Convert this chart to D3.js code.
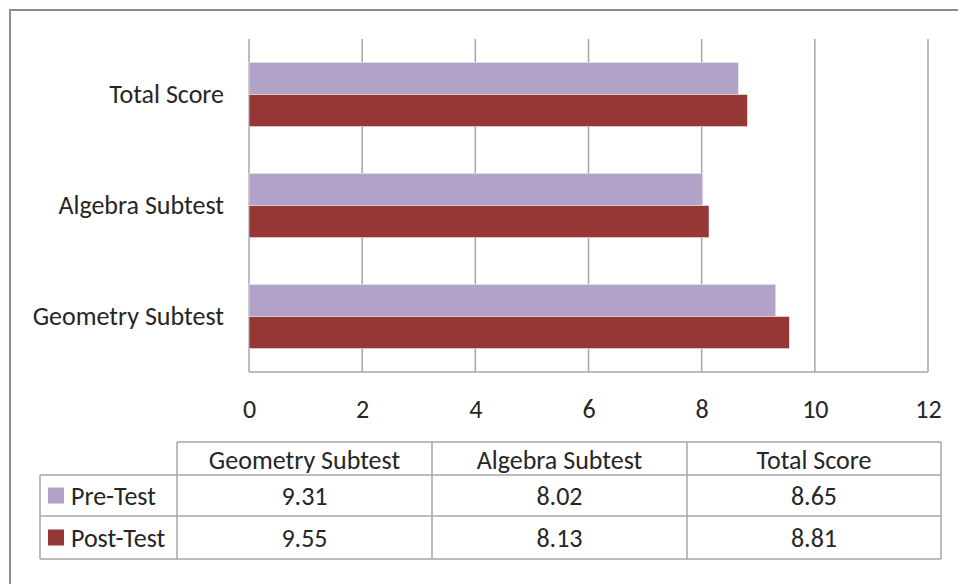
<!DOCTYPE html>
<html>
<head>
<meta charset="utf-8">
<script src="https://cdn.jsdelivr.net/npm/d3@7"></script>
<style>
  html, body { margin: 0; padding: 0; background: #fff; }
  svg text { font-family: Carlito, Calibri, Lato, sans-serif; fill: #262626; }
</style>
</head>
<body>
<div id="chart"></div>
<script>
'use strict';

// chart values
const categories = ['Geometry Subtest', 'Algebra Subtest', 'Total Score'];
const preTest = [9.31, 8.02, 8.65];
const postTest = [9.55, 8.13, 8.81];
const seriesNames = ['Pre-Test', 'Post-Test'];
const xTicks = [0, 2, 4, 6, 8, 10, 12];

const colors = { 'Pre-Test': '#b3a2c7', 'Post-Test': '#953735' };
const gridColor = '#a6a6a6';
const fontSize = '26px';

const W = 958, H = 584;
const plot = { left: 249, right: 928, top: 39, bottom: 372 };

const svg = d3.select('#chart').append('svg')
    .attr('width', W)
    .attr('height', H);

// outer chart border (runs off the right/bottom edge)
svg.append('rect')
    .attr('x', 10).attr('y', 10)
    .attr('width', 1000).attr('height', 700)
    .attr('fill', 'none')
    .attr('stroke', '#8c8c8c')
    .attr('stroke-width', 2);

const x = d3.scaleLinear()
    .domain([xTicks[0], xTicks[xTicks.length - 1]])
    .range([plot.left, plot.right]);

// categories drawn bottom-up, like excel
const y = d3.scaleBand()
    .domain(categories.slice().reverse())
    .range([plot.top, plot.bottom])
    .paddingInner(0.42)
    .paddingOuter(0.21);

const ySeries = d3.scaleBand()
    .domain(seriesNames)
    .range([0, y.bandwidth()]);

// vertical gridlines
svg.append('g')
    .selectAll('line')
    .data(xTicks)
    .enter().append('line')
    .attr('x1', d => x(d)).attr('x2', d => x(d))
    .attr('y1', plot.top).attr('y2', plot.bottom)
    .attr('stroke', gridColor)
    .attr('stroke-width', 1.5);

// bars
const rows = categories.map((c, i) => ({ cat: c, 'Pre-Test': preTest[i], 'Post-Test': postTest[i] }));
const groups = svg.append('g').selectAll('g')
    .data(rows)
    .enter().append('g')
    .attr('transform', d => `translate(0, ${y(d.cat)})`);
groups.selectAll('rect')
    .data(d => seriesNames.map(s => ({ s: s, v: d[s] })))
    .enter().append('rect')
    .attr('x', x(0))
    .attr('y', d => ySeries(d.s))
    .attr('width', d => x(d.v) - x(0))
    .attr('height', ySeries.bandwidth())
    .attr('fill', d => colors[d.s])
    .attr('stroke', '#f2eef7')
    .attr('stroke-width', 0.6);

// x axis baseline
svg.append('line')
    .attr('x1', plot.left).attr('x2', plot.right)
    .attr('y1', plot.bottom).attr('y2', plot.bottom)
    .attr('stroke', gridColor)
    .attr('stroke-width', 1.5);

// x axis labels
const xAxis = d3.axisBottom(x).tickValues(xTicks).tickSize(0).tickPadding(0);
const xg = svg.append('g')
    .attr('transform', `translate(0, ${plot.bottom + 28})`)
    .call(xAxis);
xg.select('.domain').remove();
xg.selectAll('text')
    .attr('dy', '0.35em')
    .attr('y', 9)
    .style('font-size', fontSize)
    .style('font-family', null);

// y axis labels
const yAxis = d3.axisLeft(y).tickSize(0).tickPadding(25);
const yg = svg.append('g')
    .attr('transform', `translate(${plot.left}, 0)`)
    .call(yAxis);
yg.select('.domain').remove();
yg.selectAll('text')
    .style('font-size', fontSize)
    .style('font-family', null);

// data table under the chart
const colX = [40, 177, 432, 687, 941];
const rowY = [442, 475, 516, 559];
const table = svg.append('g');
const tableLine = (x1, y1, x2, y2) => table.append('line')
    .attr('x1', x1).attr('y1', y1).attr('x2', x2).attr('y2', y2)
    .attr('stroke', gridColor)
    .attr('stroke-width', 1.5);

// header row has no cell above the legend column
tableLine(colX[1], rowY[0], colX[4], rowY[0]);
for (let r = 1; r < rowY.length; r++) tableLine(colX[0], rowY[r], colX[4], rowY[r]);
tableLine(colX[0], rowY[1], colX[0], rowY[3]);
for (let c = 1; c < colX.length; c++) tableLine(colX[c], rowY[0], colX[c], rowY[3]);

table.selectAll('text.head')
    .data(categories)
    .enter().append('text')
    .attr('class', 'head')
    .attr('x', (d, i) => (colX[i + 1] + colX[i + 2]) / 2)
    .attr('y', (rowY[0] + rowY[1]) / 2 + 1)
    .attr('dy', '0.35em')
    .attr('text-anchor', 'middle')
    .style('font-size', fontSize)
    .text(d => d);

const tableRows = [preTest, postTest];
tableRows.forEach((vals, r) => {
  const cy = (rowY[r + 1] + rowY[r + 2]) / 2;
  table.append('rect')
      .attr('x', 48).attr('y', cy - 8)
      .attr('width', 16).attr('height', 16)
      .attr('fill', colors[seriesNames[r]]);
  table.append('text')
      .attr('x', 71).attr('y', cy)
      .attr('dy', '0.35em')
      .style('font-size', fontSize)
      .text(seriesNames[r]);
  table.selectAll(null)
      .data(vals)
      .enter().append('text')
      .attr('x', (d, i) => (colX[i + 1] + colX[i + 2]) / 2)
      .attr('y', cy)
      .attr('dy', '0.35em')
      .attr('text-anchor', 'middle')
      .style('font-size', fontSize)
      .text(d => d3.format('.2f')(d));
});
</script>
</body>
</html>
